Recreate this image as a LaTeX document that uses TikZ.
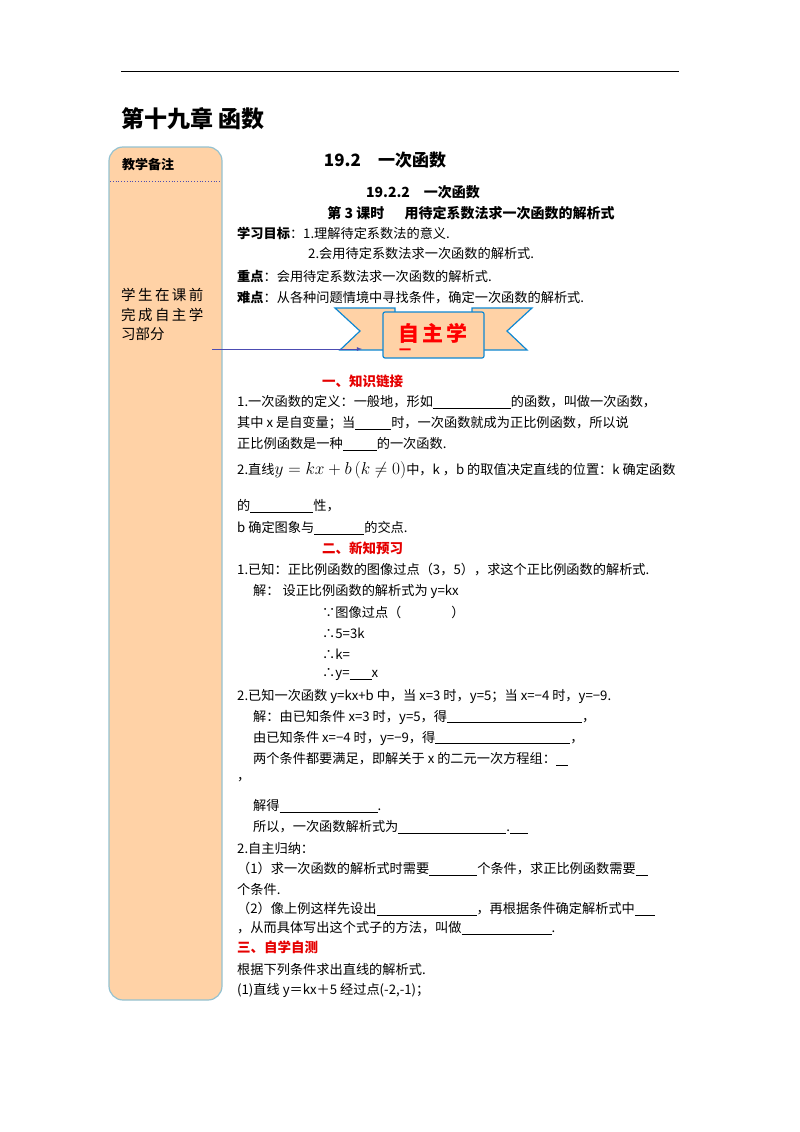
\documentclass[tikz,border=0pt]{standalone}
\usepackage{fontspec}
\setmainfont{Liberation Sans}
\newfontfamily\cjk{Noto Sans CJK SC}
\newcommand{\bl}[1]{\underline{\hspace{#1pt}}}
\begin{document}
\begin{tikzpicture}[x=1pt,y=-1pt,
  t/.style={anchor=west,inner sep=0pt,font=\cjk\fontsize{13.2}{15}\selectfont},
  tb/.style={anchor=west,inner sep=0pt,font=\cjk\bfseries\fontsize{13}{15}\selectfont},
  red/.style={anchor=west,inner sep=0pt,text=red!90!black,font=\cjk\bfseries\fontsize{13.5}{15}\selectfont}]
\useasboundingbox (0,0) rectangle (800,1132);
\draw[line width=1pt] (121,72) -- (679,72);
\node[anchor=west,inner sep=0pt,font=\cjk\bfseries\fontsize{23}{26}\selectfont] (ch) at (121,119) {第十九章\ 函数};
% sidebar
\draw[draw=blue!25!cyan!40!gray!60,fill=orange!35!white,line width=1.2pt,rounded corners=14pt] (109,147) rectangle (222,1000);
\draw[dotted,blue!40!gray,line width=0.8pt] (110,181) -- (221,181);
\node[tb] (bz) at (122,165) {教学备注};
\node[anchor=north west,inner sep=0pt,align=left,font=\cjk\fontsize{14.5}{19.5}\selectfont] (sb) at (121,288) {学\,生\,在\,课\,前\\完\,成\,自\,主\,学\\习部分};
% titles
\node[anchor=center,inner sep=0pt,font=\cjk\bfseries\fontsize{17}{19}\selectfont] (t1) at (385,160) {19.2\quad 一次函数};
\node[anchor=center,inner sep=0pt,font=\cjk\bfseries\fontsize{14}{16}\selectfont] (t2) at (423,192) {19.2.2\quad 一次函数};
\node[anchor=center,inner sep=0pt,font=\cjk\bfseries\fontsize{14}{16}\selectfont] (t3) at (471,213) {第 3 课时\quad\ \ 用待定系数法求一次函数的解析式};
\node[t] (a1) at (237,233) {\textbf{学习目标}：1.理解待定系数法的意义.};
\node[t] (a2) at (308,253) {2.会用待定系数法求一次函数的解析式.};
\node[t] (a3) at (237,276) {\textbf{重点}：会用待定系数法求一次函数的解析式.};
\node[t] (a4) at (237,298) {\textbf{难点}：从各种问题情境中寻找条件，确定一次函数的解析式.};
% banner
\draw[cyan!70!blue,line width=1.2pt,fill=orange!35!white] (335,308) -- (395,308) -- (395,350) -- (340,350) -- (360,331) -- cycle;
\draw[cyan!70!blue,line width=1.2pt,fill=orange!35!white] (532,308) -- (472,308) -- (472,350) -- (527,350) -- (507,331) -- cycle;
\draw[cyan!70!blue,line width=1.2pt,fill=orange!35!white,rounded corners=2pt] (383,312) rectangle (484,358);
\node[anchor=center,inner sep=0pt,text=red,font=\cjk\bfseries\fontsize{21}{23}\selectfont] (zz) at (433,333) {自\,主\,学};
\node[anchor=center,inner sep=0pt,text=red,font=\cjk\bfseries\fontsize{12}{14}\selectfont] (yi) at (405,352) {一};
\coordinate (arrS) at (212,349);
\draw[-latex,blue!40!gray,line width=0.8pt] (arrS) -- (362,349);
% section 1
\node[red] (s1) at (322,381) {一、知识链接};
\node[t] (b1) at (237,402) {1.一次函数的定义：一般地，形如\bl{78}的函数，叫做一次函数，};
\node[t] (b2) at (237,423) {其中 x 是自变量；当\bl{36}时，一次函数就成为正比例函数，所以说};
\node[t] (b3) at (237,444) {正比例函数是一种\bl{34}的一次函数.};
\node[t] (b4) at (237,470) {2.直线{\fontsize{17}{18}\selectfont$y=kx+b\left(k\neq0\right)$}中，k\ ，b 的取值决定直线的位置：k 确定函数};
\node[t] (b5) at (237,506) {的\bl{63}性，};
\node[t] (b6) at (237,528) {b 确定图象与\bl{50}的交点.};
% section 2
\node[red] (s2) at (322,548) {二、新知预习};
\node[t] (c1) at (237,570) {1.已知：正比例函数的图像过点（3，5），求这个正比例函数的解析式.};
\node[t] (c2) at (253,591) {解：\ 设正比例函数的解析式为 y=kx};
\node[t] (c3) at (322,612) {∵图像过点（\hspace{50pt}）};
\node[t] (c4) at (322,633) {∴5=3k};
\node[t] (c5) at (322,654) {∴k=};
\node[t] (c6) at (322,675) {∴y=\bl{22}x};
\node[t] (d1) at (237,696) {2.已知一次函数 y=kx+b 中，当 x=3 时，y=5；当 x=−4 时，y=−9.};
\node[t] (d2) at (253,717) {解：由已知条件 \textit{x}=3 时，\textit{y}=5，得\bl{135}，};
\node[t] (d3) at (253,738) {由已知条件 \textit{x}=−4 时，\textit{y}=−9，得\bl{135}，};
\node[t] (d4) at (253,759) {两个条件都要满足，即解关于 \textit{x} 的二元一次方程组：\bl{12}};
\node[t] (d5) at (237,780) {，};
\node[t] (d6) at (253,806) {解得\bl{98}.};
\node[t] (d7) at (253,827) {所以，一次函数解析式为\bl{108}.\bl{18}};
\node[t] (e1) at (237,848) {2.自主归纳：};
\node[t] (e2) at (237,869) {（1）求一次函数的解析式时需要\bl{48}个条件，求正比例函数需要\bl{12}};
\node[t] (e3) at (237,889) {个条件.};
\node[t] (e4) at (237,909) {（2）像上例这样先设出\bl{100}，再根据条件确定解析式中\bl{20}};
\node[t] (e5) at (237,928) {，从而具体写出这个式子的方法，叫做\bl{90}.};
\node[red] (s3) at (237,947) {三、自学自测};
\node[t] (f1) at (237,969) {根据下列条件求出直线的解析式.};
\node[t] (f2) at (237,990) {(1)直线 \textit{y}＝\textit{kx}＋5 经过点(-2,-1)；};
\end{tikzpicture}
\end{document}
